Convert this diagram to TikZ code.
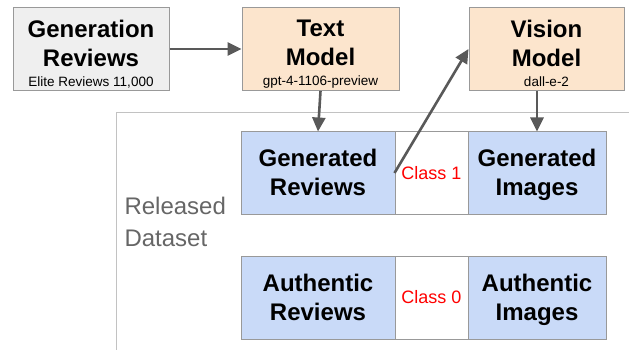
\documentclass[tikz,border=0pt]{standalone}
\usepackage{fontspec}
\setmainfont{Liberation Sans}
\usetikzlibrary{arrows.meta}
\definecolor{boxgray}{HTML}{EFEFEF}
\definecolor{boxorange}{HTML}{FCE5CD}
\definecolor{boxblue}{HTML}{C9DAF8}
\definecolor{edgegray}{HTML}{999999}
\definecolor{arrowgray}{HTML}{595959}
\definecolor{gred}{HTML}{FF0000}
\newcommand{\subline}[1]{{\fontsize{13.5}{16}\selectfont\mdseries #1}}
\newcommand{\toppad}[1]{\rule{0pt}{#1}}

\begin{document}
\begin{tikzpicture}[x=1pt,y=-1pt,
  box/.style={rectangle,draw=edgegray,line width=1pt,inner sep=0pt,align=center,minimum height=83pt},
  title/.style={font=\fontsize{24}{29}\selectfont\bfseries},
  flow/.style={draw=arrowgray,line width=2.6pt,-{Triangle[length=14pt,width=13pt]}}]
\useasboundingbox (0,0) rectangle (629,350);

% top row
\node[box,fill=boxgray,minimum width=156pt,title] (gen) at (91,49) {\toppad{27pt}Generation\\Reviews\\[-9pt]\subline{Elite Reviews 11,000}};
\node[box,fill=boxorange,minimum width=157pt,title] (tm) at (320.5,49) {\toppad{27pt}Text\\Model\\[-9pt]\subline{gpt-4-1106-preview}};
\node[box,fill=boxorange,minimum width=155pt,title] (vm) at (546.5,49) {\toppad{27pt}Vision\\Model\\[-9pt]\subline{dall-e-2}};

% released dataset frame
\draw[edgegray!60,line width=0.8pt] (629,112) -- (116,112) -- (116,350);
\node[anchor=west,align=left,text=black!60,font=\fontsize{24}{32}\selectfont] (rd) at (121,222) {Released\\Dataset};

% generated row
\node[box,fill=boxblue,minimum width=154pt,minimum height=82pt,title] (gr) at (318,173) {\toppad{22pt}Generated\\Reviews\vphantom{g}};
\node[box,fill=white,minimum width=73pt,minimum height=82pt,text=gred,font=\fontsize{18}{20}\selectfont] (c1) at (431.5,173) {Class 1};
\node[box,fill=boxblue,minimum width=138pt,minimum height=82pt,title] (gi) at (537,173) {\toppad{22pt}Generated\\Images};

% authentic row
\node[box,fill=boxblue,minimum width=154pt,title] (ar) at (318,297.5) {\toppad{22pt}Authentic\\Reviews\vphantom{g}};
\node[box,fill=white,minimum width=73pt,text=gred,font=\fontsize{18}{20}\selectfont] (c0) at (431.5,297.5) {Class 0};
\node[box,fill=boxblue,minimum width=138pt,title] (ai) at (537,297.5) {\toppad{22pt}Authentic\\Images};

% arrows
\draw[flow] (gen.east) -- (tm.west);
\draw[flow] (tm.south) -- (gr.north);
\draw[flow] (vm.south -| gi.north) -- (gi.north);
\draw[flow] (c1.west) -- (vm.west);

\end{tikzpicture}
\end{document}
